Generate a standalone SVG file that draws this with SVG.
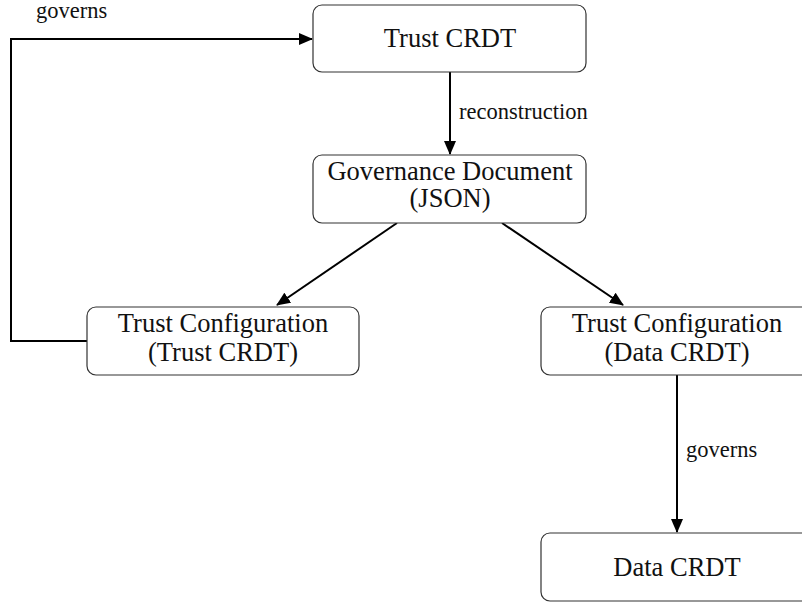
<svg xmlns="http://www.w3.org/2000/svg" width="802" height="604" viewBox="0 0 802 604">
<style>
.box{fill:#fff;stroke:#333;stroke-width:1.2}
.nt{font-family:"Liberation Serif","Times New Roman",serif;font-size:26.5px;fill:#111;text-anchor:middle}
.lb{font-family:"Liberation Serif","Times New Roman",serif;font-size:22.5px;fill:#111}
.edge{fill:none;stroke:#000;stroke-width:2}
</style>
<defs>
<marker id="ah" markerUnits="userSpaceOnUse" markerWidth="14" markerHeight="12" refX="13" refY="6" orient="auto">
<path d="M0,0 L14,6 L0,12 z" fill="#000"/>
</marker>
</defs>
<rect width="802" height="604" fill="#fff"/>
<g id="connectors">
<path class="edge" d="M87,341 H11 V39 H312" marker-end="url(#ah)"/>
<text class="lb" x="36" y="18">governs</text>
<path class="edge" d="M450,72 V154" marker-end="url(#ah)"/>
<text class="lb" x="459" y="119">reconstruction</text>
<path class="edge" d="M397,223 L277,305" marker-end="url(#ah)"/>
<path class="edge" d="M502,223 L623,305" marker-end="url(#ah)"/>
<path class="edge" d="M677,375 V532" marker-end="url(#ah)"/>
<text class="lb" x="686" y="457">governs</text>
</g>
<g id="trust-crdt">
<rect class="box" x="313" y="5" width="273" height="67" rx="9"/>
<text class="nt" x="450" y="47">Trust CRDT</text>
</g>
<g id="governance-document">
<rect class="box" x="313" y="155" width="273" height="68" rx="9"/>
<text class="nt" x="450" y="180">Governance Document</text>
<text class="nt" x="450" y="207">(JSON)</text>
</g>
<g id="trust-config-trust">
<rect class="box" x="87" y="307" width="272" height="68" rx="9"/>
<text class="nt" x="223" y="332">Trust Configuration</text>
<text class="nt" x="223" y="361">(Trust CRDT)</text>
</g>
<g id="trust-config-data">
<rect class="box" x="541" y="307" width="273" height="68" rx="9"/>
<text class="nt" x="677" y="332">Trust Configuration</text>
<text class="nt" x="677" y="361">(Data CRDT)</text>
</g>
<g id="data-crdt">
<rect class="box" x="541" y="533" width="273" height="68" rx="9"/>
<text class="nt" x="677" y="576">Data CRDT</text>
</g>
</svg>
